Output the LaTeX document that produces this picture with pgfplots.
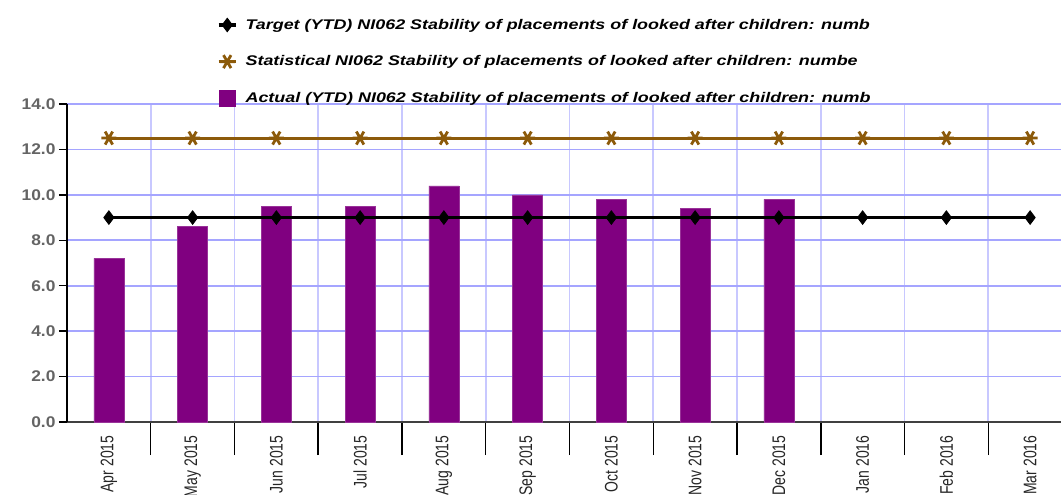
\documentclass[border=0pt]{standalone}
\usepackage{graphicx}
\usepackage{pgfplots}
\pgfplotsset{compat=1.18}
\usepackage{fontspec}
\setmainfont{Liberation Sans}
\newfontfamily\legfont[FakeStretch=1.28]{Liberation Sans}
\newfontfamily\yfont[FakeStretch=1.12]{Liberation Sans}
\definecolor{barpurple}{RGB}{128,0,128}
\definecolor{statbrown}{RGB}{140,90,10}
\definecolor{hgrid}{RGB}{165,165,255}
\definecolor{vgrid}{RGB}{200,200,255}
\definecolor{ticklab}{RGB}{100,100,100}
\newcommand{\xl}[1]{\scalebox{1}[1.3]{#1}}
\begin{document}
\begin{tikzpicture}
\begin{scope}
\clip (-67pt,-73pt) rectangle (994pt,422pt);
\begin{axis}[
  scale only axis,
  width=1005pt, height=318pt,
  xmin=-0.5, xmax=11.5, ymin=0, ymax=14,
  axis x line*=bottom, axis y line*=left,
  x axis line style={draw=black!75, line width=1.8pt},
  y axis line style={draw=black, line width=1.5pt},
  xtick={0,...,11},
  xticklabels={\xl{Apr 2015},\xl{May 2015},\xl{Jun 2015},\xl{Jul 2015},\xl{Aug 2015},\xl{Sep 2015},\xl{Oct 2015},\xl{Nov 2015},\xl{Dec 2015},\xl{Jan 2016},\xl{Feb 2016},\xl{Mar 2016}},
  minor xtick={0.5,1.5,...,11.5},
  major x tick style={draw=none},
  minor x tick style={draw=black, line width=1.5pt},
  minor tick length=33pt,
  major tick length=8pt,
  tick align=outside,
  ytick={0,2,...,14},
  ytick style={draw=black, line width=1.4pt},
  xminorgrids=true, ymajorgrids=true,
  minor grid style={draw=vgrid, line width=1.6pt},
  major grid style={draw=hgrid, line width=1.6pt},
  xticklabel style={rotate=90, anchor=east, font=\fontsize{14}{16}\selectfont, text=black!85, xshift=-2pt},
  yticklabel style={font=\yfont\fontsize{15.5}{18}\selectfont\bfseries, text=ticklab},
  /pgf/number format/assume math mode=true,
  yticklabel={\pgfmathprintnumber[fixed,fixed zerofill,precision=1]{\tick}},
  clip=false,
  legend cell align=left,
  reverse legend,
  legend style={at={(axis description cs:0.146,1.28)}, anchor=north west, draw=none, fill=none,
    font=\legfont\fontsize{14}{16}\selectfont\bfseries\itshape, row sep=21pt,
    /tikz/every odd column/.append style={column sep=6pt}},
]
\addplot[ybar, bar width=30pt, fill=barpurple, draw=barpurple!80, forget plot] coordinates {
(0,7.2) (1,8.6) (2,9.5) (3,9.5) (4,10.4) (5,10.0) (6,9.8) (7,9.4) (8,9.8)};
\addplot[ybar, bar width=30pt, fill=barpurple, draw=barpurple!80,
  legend image code/.code={\fill[barpurple] (0.02cm,-0.28cm) rectangle (0.58cm,0.28cm);}] coordinates {(20,0)};
\addlegendentry{Actual (YTD) NI062 Stability of placements of looked after children: numb}
\addplot[color=statbrown, line width=3pt, mark=asterisk, mark size=7.5pt,
  mark options={rotate=90, line width=2.8pt}] coordinates {
(0,12.5) (1,12.5) (2,12.5) (3,12.5) (4,12.5) (5,12.5) (6,12.5) (7,12.5) (8,12.5) (9,12.5) (10,12.5) (11,12.5)};
\addlegendentry{Statistical NI062 Stability of placements of looked after children: numbe}
\addplot[color=black, line width=3.6pt, mark=diamond*, mark size=6.8pt, mark options={solid, line width=0.8pt}] coordinates {
(0,9.0) (1,9.0) (2,9.0) (3,9.0) (4,9.0) (5,9.0) (6,9.0) (7,9.0) (8,9.0) (9,9.0) (10,9.0) (11,9.0)};
\addlegendentry{Target (YTD) NI062 Stability of placements of looked after children: numb}
\end{axis}
\end{scope}
\pgfresetboundingbox
\path[use as bounding box] (-67pt,-73pt) rectangle (994pt,422pt);
\end{tikzpicture}
\end{document}
